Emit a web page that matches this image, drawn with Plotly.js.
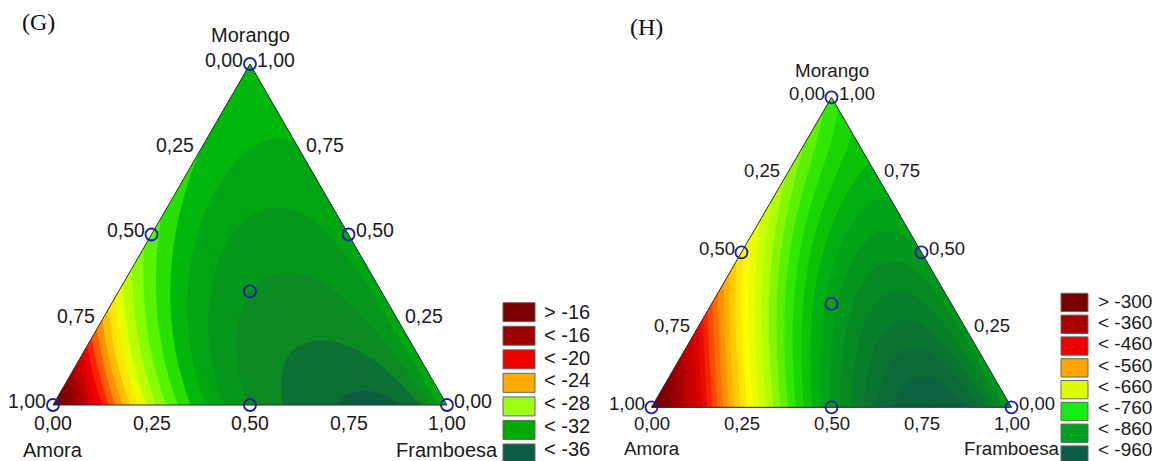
<!DOCTYPE html>
<html><head><meta charset="utf-8">
<script src="https://cdn.plot.ly/plotly-3.0.1.min.js"></script>
<style>html,body{margin:0;padding:0;background:#fff;} #chart{width:1158px;height:461px;}</style>
</head><body><div id="chart"></div>
<script>
// ---------------- data ----------------
const tickValues = [0, 0.25, 0.5, 0.75, 1];
const tickLabels = ['0,00', '0,25', '0,50', '0,75', '1,00'];

// experimental design points (mixture proportions)
const designAmora     = [1, 0, 0, 0.5, 0.5, 0, 1/3];
const designFramboesa = [0, 1, 0, 0.5, 0, 0.5, 1/3];
const designMorango   = [0, 0, 1, 0, 0.5, 0.5, 1/3];

// fitted mixture-model coefficients, panel G
const gLinear  = [-12, -32.5, -32];                       // Amora, Framboesa, Morango
const gEdgeAF  = [-51.3, -13.8, -15.57, 21.9, -21.7];     // polynomial in (Amora - Framboesa)
const gEdgeAM  = [-34, -16, -2.8];                        // polynomial in (Amora - Morango)
const gEdgeFM  = [-5];                                    // polynomial in (Framboesa - Morango)
const gTernary = 15;
const gLegendLabels = ['> -16', '< -16', '< -20', '< -24', '< -28', '< -32', '< -36'];
const gLegendColors = ['#780000', '#9c0000', '#ee0000', '#ffaa00', '#9cff1a', '#00a900', '#0b5e45'];
const gLevelValues = [-37.5, -36.5, -35.5, -34.5, -33.5, -32.5, -31.5, -30.5, -29.5, -28.5, -27.5, -26.5, -25.5, -24.5, -23.5, -22.5, -21.5, -20.5, -19, -17, -15, -11.5];
const gLevelColors = ['#0a5540', '#0b5e40', '#0a7034', '#0b8a22', '#04981a', '#00a514', '#00b80c', '#28e000', '#55f500', '#88ff00', '#b8ff00', '#e6ff00', '#ffe600', '#ffbe00', '#ff9000', '#ff5a00', '#ff2200', '#ee0000', '#cc0000', '#a30000', '#880000', '#700000'];

// fitted mixture-model coefficients, panel H
const hLinear  = [-250, -850, -770];
const hEdgeAF  = [-1250, 285, -367, 72];
const hEdgeAM  = [-500, -60, 150];
const hEdgeFM  = [-200];
const hTernary = -300;
const hLegendLabels = ['> -300', '< -360', '< -460', '< -560', '< -660', '< -760', '< -860', '< -960'];
const hLegendColors = ['#780000', '#aa0000', '#ee0000', '#ffa500', '#ddff00', '#11ee11', '#00a020', '#0b5e45'];
const hLevelValues = [-990, -960, -930, -900, -870, -840, -810, -780, -750, -720, -690, -660, -630, -600, -570, -540, -510, -480, -450, -400, -350, -300, -230];
const hLevelColors = ['#0a5040', '#0b5e42', '#0b6a38', '#08792c', '#058a22', '#029c1a', '#00b012', '#10cc00', '#30e800', '#70f500', '#b0ff00', '#dcff00', '#ffff00', '#ffd800', '#ffb000', '#ff8000', '#ff4800', '#f01000', '#dd0000', '#bb0000', '#9a0000', '#800000', '#700000'];

// ---------------- helpers ----------------
const W = 1158, H = 461;
const SQ = Math.sqrt(3) / 2;
const FONT = 'Liberation Sans, Arial, sans-serif';
function poly(c, t) { let s = 0, p = 1; for (const k of c) { s += k * p; p *= t; } return s; }
function makeModel(lin, af, am, fm, tern) {
  return (a, f, m) => lin[0]*a + lin[1]*f + lin[2]*m
    + a*f*poly(af, a - f) + a*m*poly(am, a - m) + f*m*poly(fm, f - m) + tern*a*f*m;
}
function toX(a, f, m) { return f + m / 2; }
function toY(a, f, m) { return m * SQ; }
function grid(model) {
  const nx = 241, ny = 211, xs = [], ys = [], z = [];
  for (let i = 0; i < nx; i++) xs.push(i / (nx - 1));
  for (let j = 0; j < ny; j++) ys.push(j / (ny - 1) * SQ);
  for (let j = 0; j < ny; j++) {
    const row = [];
    for (let i = 0; i < nx; i++) {
      let m = ys[j] / SQ, f = xs[i] - m / 2, a = 1 - f - m;
      if (f < 0) { f = 0; a = 1 - m; }
      if (a < 0) { a = 0; f = 1 - m; }
      row.push(model(a, f, m));
    }
    z.push(row);
  }
  return { xs, ys, z };
}
// colour stops are given per band value; Plotly paints each band one step lower, so compensate
function scale(vals, cols, start, end, size) {
  const lo = start - size / 2, hi = end + size / 2;
  return vals.map((v, i) => [Math.min(1, Math.max(0, (v - size - lo) / (hi - lo))), cols[i]])
    .map((s, i, arr) => [i === 0 ? 0 : (i === arr.length - 1 ? 1 : s[0]), s[1]]);
}

const panels = [
  { id: '', model: makeModel(gLinear, gEdgeAF, gEdgeAM, gEdgeFM, gTernary),
    start: -38, end: -12, size: 1, vals: gLevelValues, cols: gLevelColors,
    px0: 53, px1: 447, pyBase: 405, pyTop: 64, tickSize: 19.5, titleSize: 20, legSize: 20,
    tag: '(G)', tagX: 38, tagY: 22, titleTop: 29, titleBottom: -45, bottomShift: -18,
    legLabels: gLegendLabels, legColors: gLegendColors,
    legX0: 503, legX1: 535, legY0: 302.7, legStep: 23.55, legH: 19, legTextX: 543, legText0: 311.7, legTextStep: 22.9 },
  { id: '2', model: makeModel(hLinear, hEdgeAF, hEdgeAM, hEdgeFM, hTernary),
    start: -1000, end: -240, size: 20, vals: hLevelValues, cols: hLevelColors,
    px0: 651.5, px1: 1011.5, pyBase: 407.3, pyTop: 97.3, tickSize: 18.5, titleSize: 18.8, legSize: 19,
    tag: '(H)', tagX: 646, tagY: 27, titleTop: 27, titleBottom: -41, bottomShift: -16,
    legLabels: hLegendLabels, legColors: hLegendColors,
    legX0: 1061, legX1: 1088, legY0: 293.3, legStep: 21.8, legH: 18.3, legTextX: 1097, legText0: 301.5, legTextStep: 21.2 }
];

const data = [], annotations = [], shapes = [];
const layout = {
  width: W, height: H, margin: { l: 0, r: 0, t: 0, b: 0 },
  paper_bgcolor: '#fff', plot_bgcolor: '#fff', showlegend: false,
  font: { family: FONT, size: 19, color: '#1a1a1a' }
};
const xr = [-0.1, 1.1], yr = [-0.05, 0.92];

panels.forEach(p => {
  const xa = 'x' + p.id, ya = 'y' + p.id;
  const kx = p.px1 - p.px0, ky = (p.pyBase - p.pyTop) / SQ;
  layout['xaxis' + p.id] = { domain: [(p.px0 + xr[0]*kx)/W, (p.px0 + xr[1]*kx)/W], range: xr, visible: false, fixedrange: true, anchor: ya };
  layout['yaxis' + p.id] = { domain: [(H - (p.pyBase - yr[0]*ky))/H, (H - (p.pyBase - yr[1]*ky))/H], range: yr, visible: false, fixedrange: true, anchor: xa };

  const g = grid(p.model);
  data.push({ type: 'contour', x: g.xs, y: g.ys, z: g.z, xaxis: xa, yaxis: ya,
    autocontour: false, contours: { start: p.start, end: p.end, size: p.size, coloring: 'fill', showlines: false },
    line: { width: 0, smoothing: 1 }, colorscale: scale(p.vals, p.cols, p.start, p.end, p.size),
    showscale: false, hoverinfo: 'skip' });

  // white masks outside the triangle
  data.push({ type: 'scatter', mode: 'lines', xaxis: xa, yaxis: ya, hoverinfo: 'skip',
    x: [0, 0.5, 0.5, -0.08, -0.08, 0], y: [0, SQ, SQ + 0.08, SQ + 0.08, 0, 0],
    fill: 'toself', fillcolor: '#fff', line: { width: 0, color: '#fff' } });
  data.push({ type: 'scatter', mode: 'lines', xaxis: xa, yaxis: ya, hoverinfo: 'skip',
    x: [1, 0.5, 0.5, 1.08, 1.08, 1], y: [0, SQ, SQ + 0.08, SQ + 0.08, 0, 0],
    fill: 'toself', fillcolor: '#fff', line: { width: 0, color: '#fff' } });

  // triangle outline
  const va = [1, 0, 0, 1], vf = [0, 1, 0, 0], vm = [0, 0, 1, 0];
  data.push({ type: 'scatter', mode: 'lines', xaxis: xa, yaxis: ya, hoverinfo: 'skip',
    x: va.map((a, i) => toX(a, vf[i], vm[i])), y: va.map((a, i) => toY(a, vf[i], vm[i])),
    line: { color: '#2a2a2a', width: 1 } });

  // design points
  data.push({ type: 'scatter', mode: 'markers', xaxis: xa, yaxis: ya, hoverinfo: 'skip', cliponaxis: false,
    x: designAmora.map((a, i) => toX(a, designFramboesa[i], designMorango[i])),
    y: designAmora.map((a, i) => toY(a, designFramboesa[i], designMorango[i])),
    marker: { symbol: 'circle-open', size: 12, color: '#1c1ca6', line: { width: 1.8, color: '#1c1ca6' } } });

  const tf = { size: p.tickSize };
  tickValues.forEach((v, i) => {
    annotations.push({ xref: xa, yref: ya, x: toX(1 - v, v, 0), y: toY(1 - v, v, 0), text: tickLabels[i],
      showarrow: false, xanchor: 'center', yanchor: 'middle', yshift: p.bottomShift, font: tf });
    annotations.push({ xref: xa, yref: ya, x: toX(v, 0, 1 - v), y: toY(v, 0, 1 - v), text: tickLabels[i],
      showarrow: false, xanchor: 'right', yanchor: 'middle', xshift: -5, yshift: 4, font: tf });
    annotations.push({ xref: xa, yref: ya, x: toX(0, 1 - v, v), y: toY(0, 1 - v, v), text: tickLabels[i],
      showarrow: false, xanchor: 'left', yanchor: 'middle', xshift: 5, yshift: 4, font: tf });
  });
  const ttf = { size: p.titleSize };
  annotations.push({ xref: xa, yref: ya, x: toX(0, 0, 1), y: toY(0, 0, 1), text: 'Morango', showarrow: false, yanchor: 'middle', yshift: p.titleTop, font: ttf });
  annotations.push({ xref: xa, yref: ya, x: toX(1, 0, 0), y: toY(1, 0, 0), text: 'Amora', showarrow: false, yanchor: 'middle', yshift: p.titleBottom, font: ttf });
  annotations.push({ xref: xa, yref: ya, x: toX(0, 1, 0), y: toY(0, 1, 0), text: 'Framboesa', showarrow: false, yanchor: 'middle', yshift: p.titleBottom, font: ttf });
  annotations.push({ xref: 'paper', yref: 'paper', x: p.tagX / W, y: 1 - p.tagY / H, text: p.tag, showarrow: false,
    xanchor: 'center', yanchor: 'middle', font: { family: 'Liberation Serif, Times New Roman, serif', size: 24, color: '#111' } });
  p.legLabels.forEach((lab, i) => {
    const top = p.legY0 + i * p.legStep;
    shapes.push({ type: 'rect', xref: 'paper', yref: 'paper', x0: p.legX0 / W, x1: p.legX1 / W,
      y0: 1 - top / H, y1: 1 - (top + p.legH) / H, fillcolor: p.legColors[i], line: { color: '#666', width: 1 } });
    annotations.push({ xref: 'paper', yref: 'paper', x: p.legTextX / W, y: 1 - (p.legText0 + i * p.legTextStep) / H, text: lab,
      showarrow: false, xanchor: 'left', yanchor: 'middle', borderpad: 0, font: { size: p.legSize } });
  });
});
layout.annotations = annotations;
layout.shapes = shapes;
Plotly.newPlot('chart', data, layout, { staticPlot: true, displayModeBar: false });
</script></body></html>
